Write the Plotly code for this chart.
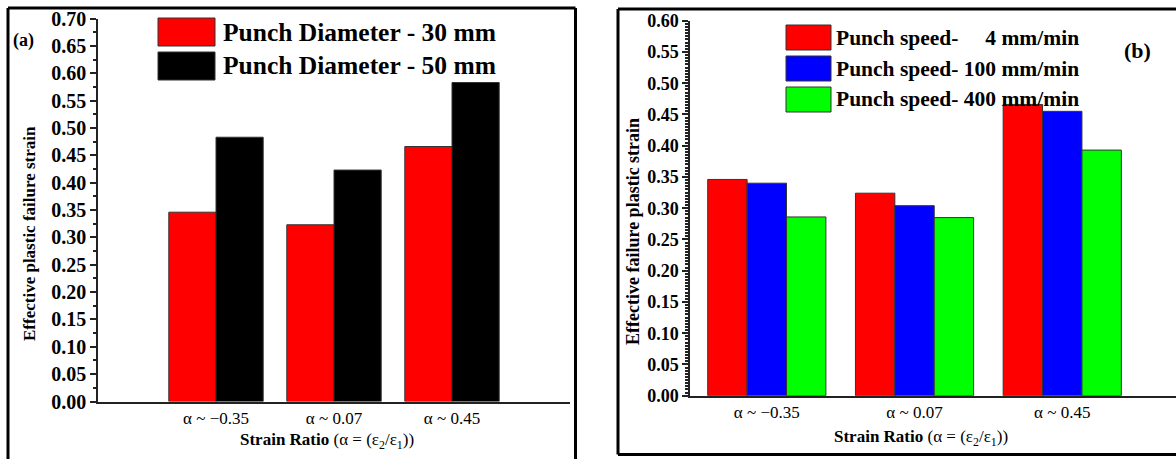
import plotly.graph_objects as go

# ---------------- data ----------------
categories = ["α ~ \u22120.35", "α ~ 0.07", "α ~ 0.45"]

dia_names = ["Punch Diameter - 30 mm", "Punch Diameter - 50 mm"]
dia_30 = [0.346, 0.323, 0.466]
dia_50 = [0.483, 0.423, 0.583]

speed_names = ["Punch speed-\u00a0\u00a0\u00a0\u00a0\u00a04 mm/min",
               "Punch speed- 100 mm/min",
               "Punch speed- 400 mm/min"]
speed_4 = [0.346, 0.324, 0.466]
speed_100 = [0.340, 0.304, 0.455]
speed_400 = [0.286, 0.285, 0.393]

# ---------------- styling ----------------
W, H = 1176, 459
FONT = "Liberation Serif, Times New Roman, serif"
dia_colors = ["#FF0000", "#000000"]
speed_colors = ["#FF0000", "#0000FF", "#00FF00"]
cat_pos = list(range(len(categories)))


def px(x):
    return x / W


def py(y):
    return 1 - y / H


fig = go.Figure()

for name, vals, col in zip(dia_names, [dia_30, dia_50], dia_colors):
    fig.add_trace(go.Bar(x=cat_pos, y=vals, name=name, marker_color=col,
                         marker_line=dict(color="#333333", width=1),
                         xaxis="x", yaxis="y", showlegend=False,
                         offsetgroup=name))

for name, vals, col in zip(speed_names, [speed_4, speed_100, speed_400], speed_colors):
    fig.add_trace(go.Bar(x=cat_pos, y=vals, name=name, marker_color=col,
                         marker_line=dict(color="#333333", width=1),
                         xaxis="x2", yaxis="y2", showlegend=False,
                         offsetgroup=name))

axis_line = dict(showline=True, linecolor="#222222", linewidth=1.5, showgrid=False,
                 zeroline=False, automargin=False)

fig.update_layout(
    width=W, height=H,
    margin=dict(l=0, r=0, t=0, b=0, pad=0),
    paper_bgcolor="white", plot_bgcolor="white",
    barmode="group", bargap=0.2, bargroupgap=0,
    font=dict(family=FONT, color="black"),
    xaxis=dict(domain=[px(98), px(570)], anchor="y", type="linear",
               range=[-1, 3], tickmode="array", tickvals=cat_pos, ticktext=categories,
               ticks="", tickfont=dict(size=17, family=FONT), **axis_line),
    yaxis=dict(domain=[py(401.5), py(18.5)], anchor="x", range=[0, 0.70],
               dtick=0.05, tickformat=".2f", ticks="outside", ticklen=6,
               tickwidth=1.5, tickcolor="#222222",
               tickfont=dict(size=20, family=FONT, weight="bold"),
               minor=dict(dtick=0.025, ticks="outside", ticklen=3, tickcolor="#222222"),
               **axis_line),
    xaxis2=dict(domain=[px(690), 1.0], anchor="y2", type="linear",
                range=[-0.52, 2.77], tickmode="array", tickvals=cat_pos, ticktext=categories,
                ticks="", tickfont=dict(size=17, family=FONT), **axis_line),
    yaxis2=dict(domain=[py(395.7), py(20.7)], anchor="x2", range=[0, 0.60],
                dtick=0.05, tickformat=".2f", ticks="outside", ticklen=6,
                tickwidth=1.5, tickcolor="#222222",
                tickfont=dict(size=18, family=FONT, weight="bold"),
                minor=dict(dtick=0.005, ticks="outside", ticklen=3, tickcolor="#222222"),
                **axis_line),
)

shapes = []
annotations = []


def seg(x0, y0, x1, y1):
    return dict(type="line", xref="paper", yref="paper",
                x0=px(x0), y0=py(y0), x1=px(x1), y1=py(y1),
                line=dict(color="black", width=3))


# panel frames (kept inside the page; open where the reference is cropped)
shapes += [seg(8, 8, 575.5, 8), seg(8, 8, 8, 459), seg(575.5, 8, 575.5, 459)]
shapes += [seg(618, 9, 1176, 9), seg(618, 9, 618, 454.5), seg(618, 454.5, 1176, 454.5)]

# custom legends (large swatches)
for i, (name, col) in enumerate(zip(dia_names, dia_colors)):
    top = 18 + i * 34
    shapes.append(dict(type="rect", xref="paper", yref="paper",
                       x0=px(158), x1=px(215), y0=py(top + 28), y1=py(top),
                       fillcolor=col, line=dict(color="#333333", width=1)))
    annotations.append(dict(xref="paper", yref="paper", x=px(221), y=py(top + 14),
                            text=name, showarrow=False, xanchor="left", yanchor="middle",
                            font=dict(size=25.5, family=FONT, weight="bold", color="black")))

for i, (name, col) in enumerate(zip(speed_names, speed_colors)):
    top = 25 + i * 31
    shapes.append(dict(type="rect", xref="paper", yref="paper",
                       x0=px(786), x1=px(831), y0=py(top + 25), y1=py(top),
                       fillcolor=col, line=dict(color="#333333", width=1)))
    annotations.append(dict(xref="paper", yref="paper", x=px(834), y=py(top + 12.5),
                            text=name, showarrow=False, xanchor="left", yanchor="middle",
                            font=dict(size=21.5, family=FONT, weight="bold", color="black")))

# panel labels
annotations.append(dict(xref="paper", yref="paper", x=px(24), y=py(41), text="<b>(a)</b>",
                        showarrow=False, xanchor="center", yanchor="middle",
                        font=dict(size=18, family=FONT, color="black")))
annotations.append(dict(xref="paper", yref="paper", x=px(1137), y=py(50), text="<b>(b)</b>",
                        showarrow=False, xanchor="center", yanchor="middle",
                        font=dict(size=22, family=FONT, color="black")))

# axis titles
xtitle = "<b>Strain Ratio</b> (α = (ε<sub>2</sub>/ε<sub>1</sub>))"
annotations.append(dict(xref="paper", yref="paper", x=px(327), y=py(441), text=xtitle,
                        showarrow=False, xanchor="center", yanchor="middle",
                        font=dict(size=17, family=FONT, color="black")))
annotations.append(dict(xref="paper", yref="paper", x=px(921), y=py(438), text=xtitle,
                        showarrow=False, xanchor="center", yanchor="middle",
                        font=dict(size=17, family=FONT, color="black")))
annotations.append(dict(xref="paper", yref="paper", x=px(30), y=py(234),
                        text="<b>Effective plastic failure strain</b>", textangle=-90,
                        showarrow=False, xanchor="center", yanchor="middle",
                        font=dict(size=17, family=FONT, color="black")))
annotations.append(dict(xref="paper", yref="paper", x=px(633), y=py(232),
                        text="<b>Effective failure plastic strain</b>", textangle=-90,
                        showarrow=False, xanchor="center", yanchor="middle",
                        font=dict(size=18, family=FONT, color="black")))

fig.update_layout(shapes=shapes, annotations=annotations)

fig.write_html("out.html")
